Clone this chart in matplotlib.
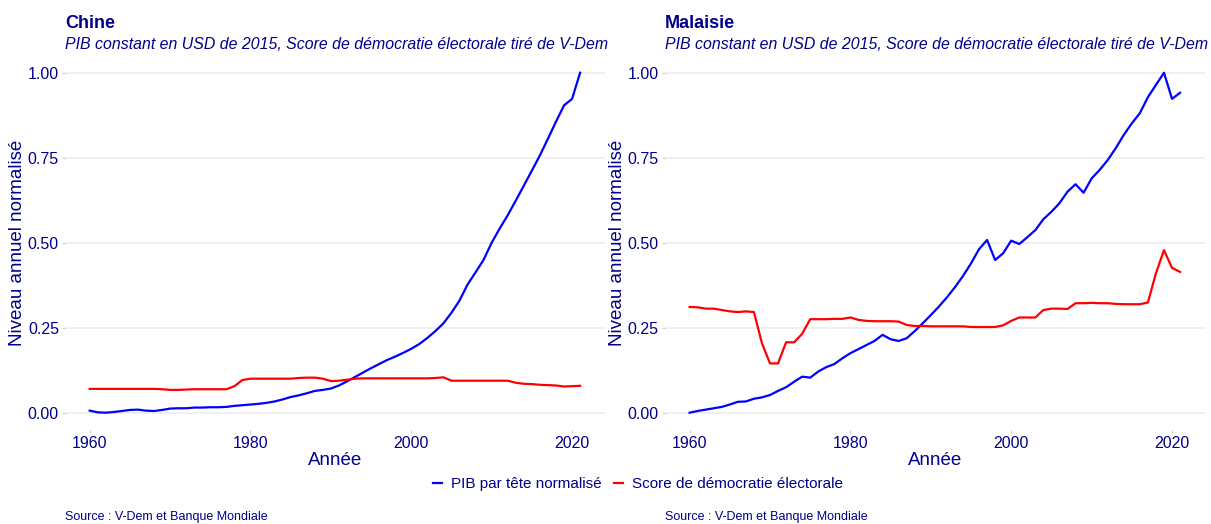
import matplotlib.pyplot as plt
import numpy as np

plt.rcParams['font.family'] = ['Liberation Sans', 'DejaVu Sans']

years = np.arange(1960, 2022)

# PIB par tete normalise + score V-Dem
chine_pib = [0.006, 0.001, 0.000, 0.002, 0.005, 0.008, 0.009, 0.006, 0.005, 0.008,
             0.012, 0.013, 0.013, 0.015, 0.015, 0.016, 0.016, 0.017, 0.020, 0.022,
             0.024, 0.026, 0.029, 0.033, 0.039, 0.046, 0.051, 0.057, 0.064, 0.067,
             0.071, 0.080, 0.092, 0.105, 0.118, 0.131, 0.143, 0.155, 0.165, 0.176,
             0.188, 0.202, 0.220, 0.240, 0.263, 0.294, 0.330, 0.377, 0.413, 0.450,
             0.500, 0.542, 0.581, 0.624, 0.668, 0.712, 0.757, 0.806, 0.856, 0.904,
             0.923, 1.000]
chine_demo = [0.070, 0.070, 0.070, 0.070, 0.070, 0.070, 0.070, 0.070, 0.070, 0.069,
              0.067, 0.067, 0.068, 0.069, 0.069, 0.069, 0.069, 0.069, 0.078, 0.096,
              0.100, 0.100, 0.100, 0.100, 0.100, 0.100, 0.102, 0.103, 0.103, 0.100,
              0.093, 0.094, 0.097, 0.100, 0.101, 0.101, 0.101, 0.101, 0.101, 0.101,
              0.101, 0.101, 0.101, 0.102, 0.104, 0.094, 0.094, 0.094, 0.094, 0.094,
              0.094, 0.094, 0.094, 0.088, 0.085, 0.084, 0.082, 0.081, 0.080, 0.077,
              0.078, 0.079]
malaisie_pib = [0.000, 0.005, 0.009, 0.013, 0.017, 0.024, 0.032, 0.033, 0.041, 0.045,
                0.052, 0.064, 0.075, 0.091, 0.106, 0.103, 0.121, 0.134, 0.143, 0.160,
                0.175, 0.187, 0.199, 0.211, 0.229, 0.216, 0.211, 0.219, 0.240, 0.263,
                0.287, 0.312, 0.339, 0.369, 0.402, 0.439, 0.481, 0.508, 0.449, 0.469,
                0.506, 0.496, 0.516, 0.537, 0.569, 0.591, 0.616, 0.650, 0.672, 0.647,
                0.689, 0.714, 0.743, 0.778, 0.817, 0.851, 0.881, 0.928, 0.964, 1.000,
                0.923, 0.941]
malaisie_demo = [0.311, 0.310, 0.306, 0.306, 0.302, 0.298, 0.296, 0.298, 0.296, 0.204,
                 0.145, 0.145, 0.207, 0.207, 0.232, 0.275, 0.275, 0.275, 0.276, 0.276,
                 0.280, 0.273, 0.270, 0.269, 0.269, 0.269, 0.268, 0.258, 0.255, 0.255,
                 0.254, 0.254, 0.254, 0.254, 0.254, 0.252, 0.252, 0.252, 0.252, 0.257,
                 0.270, 0.280, 0.280, 0.280, 0.302, 0.306, 0.306, 0.305, 0.322, 0.322,
                 0.323, 0.322, 0.322, 0.320, 0.319, 0.319, 0.319, 0.324, 0.410, 0.478,
                 0.426, 0.414]

pays = ['Chine', 'Malaisie']
sous_titre = 'PIB constant en USD de 2015, Score de démocratie électorale tiré de V-Dem'
source = 'Source : V-Dem et Banque Mondiale'
y_ticks = [0.0, 0.25, 0.5, 0.75, 1.0]
x_ticks = [1960, 1980, 2000, 2020]

txt = '#00008B'

fig = plt.figure(figsize=(12.11, 5.24), dpi=100)


def panel(left, nom, pib, demo):
    ax = fig.add_axes([left, 0.18, 0.4455, 0.7137])
    l1, = ax.plot(years, pib, color='blue', lw=1.6)
    l2, = ax.plot(years, demo, color='red', lw=1.6)
    ax.set_xlim(1956.95, 2024.05)
    ax.set_ylim(-0.05, 1.05)
    ax.set_yticks(y_ticks)
    ax.set_yticklabels(['%.2f' % v for v in y_ticks])
    ax.set_xticks(x_ticks)
    ax.grid(axis='y', color='#EBEBEB', lw=1.1)
    ax.set_axisbelow(True)
    for s in ax.spines.values():
        s.set_visible(False)
    ax.tick_params(colors='#CCCCCC', labelcolor=txt, labelsize=11.5, length=2.5, pad=2)
    ax.set_xlabel('Année', color=txt, fontsize=13.5, labelpad=1)
    ax.set_ylabel('Niveau annuel normalisé', color=txt, fontsize=13.5, labelpad=1)
    ax.text(0, 1.085, nom, transform=ax.transAxes, color=txt, fontsize=13,
            fontweight='bold', va='center')
    ax.text(0, 1.03, sous_titre, transform=ax.transAxes, color=txt, fontsize=11.4,
            style='italic', va='center')
    fig.text(left, 0.013, source, color=txt, fontsize=9, va='center')
    return l1, l2


l1, l2 = panel(0.0538, pays[0], chine_pib, chine_demo)
panel(0.5492, pays[1], malaisie_pib, malaisie_demo)

leg = fig.legend([l1, l2], ['PIB par tête normalisé', 'Score de démocratie électorale'],
                 loc='center', bbox_to_anchor=(0.527, 0.0763), ncol=2, frameon=False,
                 handlelength=0.6, handletextpad=0.6, columnspacing=0.8, fontsize=11)
for t in leg.get_texts():
    t.set_color(txt)

plt.savefig('out.png', dpi=100)
